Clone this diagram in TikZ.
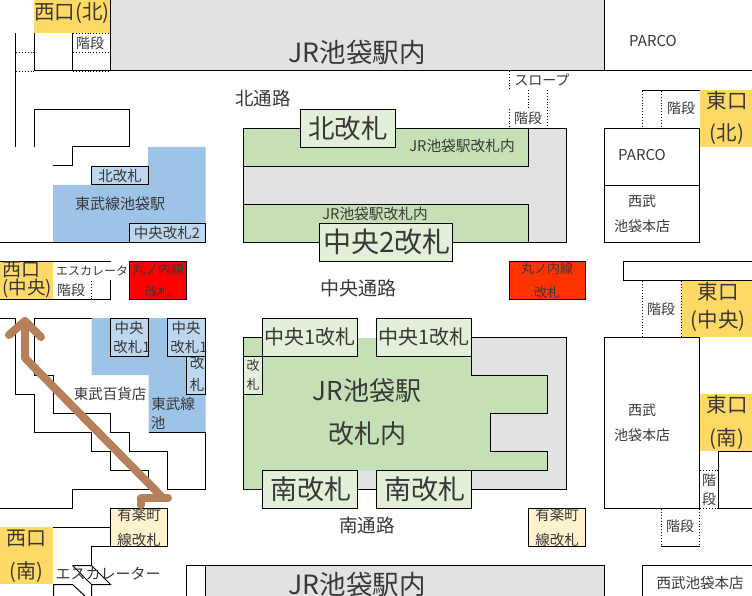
\documentclass[tikz,border=0pt]{standalone}
\usepackage{fontspec}
\setmainfont{Noto Sans CJK JP}
\definecolor{exitY}{HTML}{FFD966}
\definecolor{tobu}{HTML}{9DC3E6}
\definecolor{tobuL}{HTML}{BDD7EE}
\definecolor{jrG}{HTML}{C5E0B4}
\definecolor{jrL}{HTML}{E2F0D9}
\definecolor{hall}{HTML}{E2E2E2}
\definecolor{yura}{HTML}{FFF2CC}
\definecolor{maruA}{HTML}{FF0000}
\definecolor{maruB}{HTML}{FF3300}
\definecolor{brn}{HTML}{B5805A}
\definecolor{txt}{HTML}{383838}
\tikzset{
 x=1pt,y=-1pt,
 wall/.style={draw=black,line width=1pt,line join=miter},
 stair/.style={draw=black,line width=0.9pt,dotted},
 tx/.style={inner sep=0,text=txt,font=\fontsize{#1}{#1}\selectfont},
 gate/.style={wall,fill=jrL},
 tgate/.style={wall,fill=tobuL},
 arrowline/.style={draw=brn,line width=8pt,line cap=round,line join=round}
}
\begin{document}
\begin{tikzpicture}
\useasboundingbox (0,0) rectangle (752,596);
% exit fills
\fill[exitY] (34,0) rectangle (110,33);
\fill[exitY] (0,262) rectangle (53,299);
\fill[exitY] (0,527) rectangle (53,584);
\fill[exitY] (699.5,90) rectangle (752,147);
\fill[exitY] (681,280) rectangle (752,337);
\fill[exitY] (699.5,394) rectangle (752,451);
% top JR block
\path[wall,fill=hall] (110.5,0) -- (110.5,71) -- (604.5,71) -- (604.5,0);
\draw[wall] (34.5,71) -- (752,71);
\draw[wall] (15.5,33) -- (15.5,147);
\draw[wall] (34.5,33) -- (34.5,71);
\draw[wall] (72.5,33) -- (72.5,71);
\draw[stair] (73,33) -- (110,33) (73,52) -- (110,52) (73,71) -- (110,71);
\draw[stair] (16,52) -- (34,52) (16,71) -- (34,71);
% NW corridor walls
\draw[wall] (34.5,147) -- (34.5,109.5) -- (129.5,109.5) -- (129.5,147) -- (72.5,147) -- (72.5,166) -- (53,166);
% Tobu north
\fill[tobu] (148,147) -- (205.5,147) -- (205.5,242) -- (53,242) -- (53,185) -- (148,185) -- cycle;
\draw[wall] (0,242.5) -- (205.5,242.5);
\draw[tgate] (91.5,166.5) rectangle (148,185);
\draw[tgate] (129.5,223.5) rectangle (205.5,242.5);
% West centre
\draw[wall] (0,261.5) -- (110.5,261.5) (0,299.5) -- (110.5,299.5) (110.5,280) -- (110.5,299.5);
\draw[stair] (91,281) -- (91,299);
\draw[wall,fill=maruA] (129.5,261.5) rectangle (186.5,299.5);
\draw[wall,fill=maruB] (509.5,261.5) rectangle (585.5,299.5);
% Tobu south
\fill[tobu] (91.5,318) -- (205.5,318) -- (205.5,432) -- (148.5,432) -- (148.5,375) -- (91.5,375) -- cycle;
\draw[tgate] (110.5,318) rectangle (148.5,356.5);
\draw[tgate] (167.5,318) rectangle (205.5,356.5);
\draw[tgate] (186.5,356.5) rectangle (205.5,394.5);
\draw[wall] (148.5,432.5) -- (205.5,432.5) -- (205.5,489.5) -- (167.5,489.5) -- (167.5,451.5) -- (129.5,451.5) -- (129.5,432.5) -- (110.5,432.5) -- (110.5,413.5) -- (53.5,413.5) -- (53.5,375.5) -- (34.5,375.5) -- (34.5,318.5) -- (91.5,318.5);
\draw[wall] (0,318.5) -- (15.5,318.5) -- (15.5,394.5) -- (34.5,394.5) -- (34.5,432.5) -- (91.5,432.5) -- (91.5,451.5) -- (110.5,451.5) -- (110.5,470.5) -- (148.5,470.5) -- (148.5,489.5) -- (72.5,489.5) -- (72.5,508.5) -- (0,508.5);
% SW
\draw[wall] (53,527.5) -- (110.5,527.5);
\draw[wall] (91.5,565.5) -- (91.5,546.5) -- (110.5,546.5);
\draw[wall,fill=yura] (110.5,508.5) rectangle (167.5,546.5);
\draw[wall] (53.5,596) -- (53.5,584.5) -- (72.5,584.5) -- (85,596);
\draw[wall] (72.5,565.5) -- (91.5,565.5) -- (110.5,584.5) -- (91.5,584.5) -- (91.5,596);
\draw[wall] (72.5,565.5) -- (91.5,584.5);
% Bottom JR block
\draw[wall,fill=white] (186.5,596) -- (186.5,565.5) -- (205.5,565.5) -- (205.5,596);
\path[wall,fill=hall] (205.5,596) -- (205.5,565.5) -- (604.5,565.5) -- (604.5,596);
% Centre north
\draw[wall,fill=hall] (243.5,128.5) rectangle (566.5,242.5);
\draw[wall,fill=jrG] (243.5,128.5) rectangle (528.5,166.5);
\draw[wall,fill=jrG] (243.5,204.5) rectangle (528.5,242.5);
\draw[gate] (300.5,109.5) rectangle (395.5,147.5);
\draw[gate] (319.5,223.5) rectangle (452.5,261.5);
% Centre south
\draw[wall,fill=hall] (243.5,337.5) rectangle (566.5,489.5);
\fill[white] (357.5,336) rectangle (376.5,337.9);
\fill[jrG] (244,338) -- (471.5,338) -- (471.5,375.5) -- (547.5,375.5) -- (547.5,413.5) -- (490.5,413.5) -- (490.5,451.5) -- (547.5,451.5) -- (547.5,470.5) -- (262.5,470.5) -- (262.5,489) -- (244,489) -- cycle;
\draw[wall] (471.5,337.5) -- (471.5,375.5) -- (547.5,375.5) -- (547.5,413.5) -- (490.5,413.5) -- (490.5,451.5) -- (547.5,451.5) -- (547.5,470.5) -- (471.5,470.5);
\draw[gate] (262.5,318.5) rectangle (357.5,356.5);
\draw[gate] (376.5,318.5) rectangle (471.5,356.5);
\draw[gate] (243.5,356.5) rectangle (262.5,394.5);
\draw[gate] (262.5,470.5) rectangle (357.5,508.5);
\draw[gate] (376.5,470.5) rectangle (471.5,508.5);
\draw[wall,fill=yura] (528.5,508.5) rectangle (585.5,546.5);
% East
\draw[wall] (642,90.5) -- (699.5,90.5);
\draw[stair] (642.5,91) -- (642.5,128) (661.5,91) -- (661.5,128);
\draw[stair] (509.5,71) -- (509.5,90) (509.5,109) -- (509.5,128) (528.5,90) -- (528.5,109) (547.5,90) -- (547.5,128);
\draw[wall] (604.5,128.5) rectangle (699.5,242.5);
\draw[wall] (604.5,185.5) -- (699.5,185.5);
\draw[wall] (752,261.5) -- (623.5,261.5) -- (623.5,280.5) -- (752,280.5);
\draw[stair] (642.5,281) -- (642.5,337) (681,281) -- (681,337);
\draw[wall] (604.5,337.5) rectangle (699.5,508.5);
\draw[wall] (752,451.5) -- (718.5,451.5) -- (718.5,508.5) -- (752,508.5);
\draw[stair] (700,470.5) -- (718,470.5) (700,508.5) -- (718,508.5);
\draw[stair] (661.5,509) -- (661.5,546) (699.5,509) -- (699.5,546);
\draw[wall] (661,546.5) -- (700,546.5);
\draw[wall] (642.5,596) -- (642.5,565.5) -- (752,565.5);
% Labels
\node[tx=26.5] (jrtop) at (357,52) {JR池袋駅内};
\node[tx=26.5] (jrbot) at (357,584) {JR池袋駅内};
\node[tx=15] (parco1) at (653,41) {PARCO};
\node[tx=15] (parco2) at (642,155) {PARCO};
\node[tx=18.5] (kita) at (263,98) {北通路};
\node[tx=19] (chuo) at (358,288) {中央通路};
\node[tx=18.5] (minami) at (367,525) {南通路};
\node[tx=14.7] (jrn1) at (462,146) {JR池袋駅改札内};
\node[tx=14.7] (jrn2) at (375,214) {JR池袋駅改札内};
\node[tx=26.5] (gk) at (348,128) {北改札};
\node[tx=28] (gc2) at (387,242) {中央2改札};
\node[tx=20] (gc1a) at (310,337) {中央1改札};
\node[tx=20] (gc1b) at (424,337) {中央1改札};
\node[tx=27] (gsa) at (311,489) {南改札};
\node[tx=27] (gsb) at (425,489) {南改札};
\node[tx=13] (k1) at (253,366) {改};
\node[tx=13] (k2) at (253,385) {札};
\node[tx=26] (jra) at (367,391) {JR池袋駅};
\node[tx=26] (jrb) at (367,434) {改札内};
% Tobu
\node[tx=14.5] (tn) at (120,176) {北改札};
\node[tx=15] (te) at (120,204) {東武線池袋駅};
\node[tx=14.5] (tc2) at (167,233) {中央改札2};
\node[tx=14.5] (c1a) at (129,328) {中央};
\node[tx=14.5] (c1b) at (132,347) {改札1};
\node[tx=14.5] (c1c) at (186,328) {中央};
\node[tx=14.5] (c1d) at (189,347) {改札1};
\node[tx=14.5] (k3) at (197,363) {改};
\node[tx=14.5] (k4) at (197,385) {札};
\node[tx=14.5] (tb) at (110,394) {東武百貨店};
\node[tx=14.5] (tl1) at (173,404) {東武線};
\node[tx=14.5] (tl2) at (158,423) {池};
% Exits
\node[tx=20.5] (wn) at (72,13) {西口(北)};
\node[tx=19] (wc1) at (21,270) {西口};
\node[tx=18.5] (wc2) at (27,289) {(中央)};
\node[tx=20] (ws1) at (26,539) {西口};
\node[tx=20] (ws2) at (26,572) {(南)};
\node[tx=20.5] (en1) at (727,101) {東口};
\node[tx=20.5] (en2) at (727,134) {(北)};
\node[tx=20.5] (ec1) at (718,292) {東口};
\node[tx=20.5] (ec2) at (718,321) {(中央)};
\node[tx=20.5] (es1) at (727,405) {東口};
\node[tx=20.5] (es2) at (727,439) {(南)};
% Misc
\node[tx=14] (s1) at (90,43) {階段};
\node[tx=14] (s2) at (71,290) {階段};
\node[tx=12] (esc1) at (92,271) {エスカレータ};
\node[tx=13] (m1) at (158,270) {丸ノ内線};
\node[tx=13] (m2) at (158,292) {改札};
\node[tx=13] (m3) at (547,269) {丸ノ内線};
\node[tx=13] (m4) at (547,293) {改札};
\node[tx=14.5] (y1) at (139,515) {有楽町};
\node[tx=14.5] (y2) at (139,540) {線改札};
\node[tx=14.5] (y3) at (557,515) {有楽町};
\node[tx=14.5] (y4) at (557,540) {線改札};
\node[tx=15] (esc2) at (108,574) {エスカレーター};
\node[tx=14] (sl) at (542,80) {スロープ};
\node[tx=14] (s3) at (528,118) {階段};
\node[tx=14] (s4) at (681,108) {階段};
\node[tx=14] (s5) at (661,309) {階段};
\node[tx=14] (s6) at (680,526) {階段};
\node[tx=14] (s7) at (709,480) {階};
\node[tx=14] (s8) at (709,499) {段};
\node[tx=14] (sb1) at (642,201) {西武};
\node[tx=14] (sb2) at (642,226) {池袋本店};
\node[tx=14] (sb3) at (642,410) {西武};
\node[tx=14] (sb4) at (642,435) {池袋本店};
\node[tx=14.5] (sb5) at (700,583) {西武池袋本店};
% Route arrow
\coordinate (r0) at (141,505);
\coordinate (r1) at (141,498);
\coordinate (r2) at (168,498);
\coordinate (r3) at (163,498);
\coordinate (r4) at (25,358);
\coordinate (r5) at (25,321);
\coordinate (b1) at (9,335);
\coordinate (b2) at (41,337);
\draw[arrowline] (r0) -- (r1) -- (r2);
\draw[arrowline] (r3) -- (r4) -- (r5);
\draw[arrowline] (b1) -- (r5) -- (b2);
\end{tikzpicture}
\end{document}
